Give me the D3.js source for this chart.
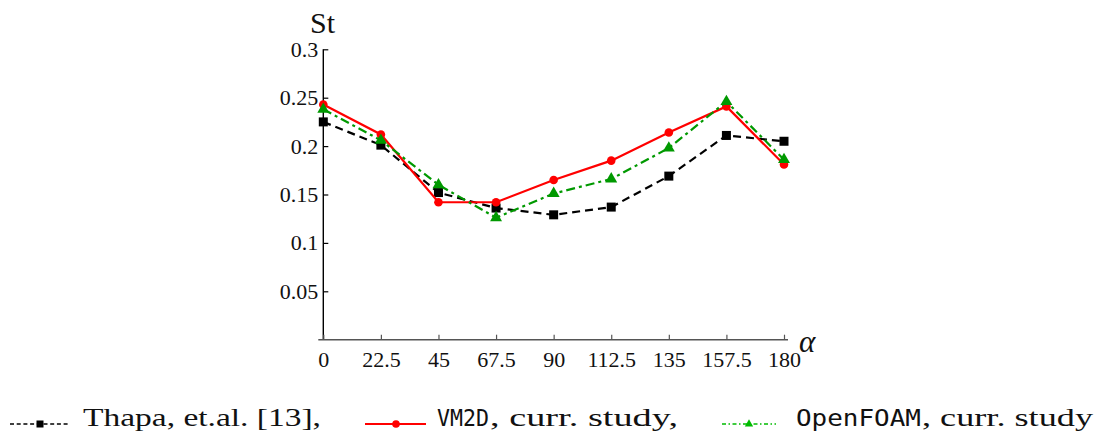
<!DOCTYPE html>
<html>
<head>
<meta charset="utf-8">
<script src="https://cdn.jsdelivr.net/npm/d3@7"></script>
<style>
  html, body { margin: 0; padding: 0; background: #fff; }
  svg { display: block; }
  .serif { font-family: "Liberation Serif", Tinos, "Times New Roman", Times, "DejaVu Serif", serif; }
  .mono { font-family: "DejaVu Sans Mono", "Liberation Mono", monospace; }
</style>
</head>
<body>
<svg id="chart" width="1099" height="437"></svg>
<script>
// ---- data ----
const angles = [0, 22.5, 45, 67.5, 90, 112.5, 135, 157.5, 180];
const thapa = [0.225, 0.201, 0.152, 0.136, 0.129, 0.137, 0.169, 0.211, 0.205];
const vm2d = [0.243, 0.212, 0.142, 0.142, 0.165, 0.185, 0.214, 0.241, 0.181];
const openfoam = [0.238, 0.206, 0.160, 0.126, 0.151, 0.166, 0.198, 0.246, 0.186];
const xTicks = [0, 22.5, 45, 67.5, 90, 112.5, 135, 157.5, 180];
const yTicks = [0.05, 0.1, 0.15, 0.2, 0.25, 0.3];

const svg = d3.select("#chart");

const x = d3.scaleLinear().domain([0, 180]).range([323.3, 784]);
const y = d3.scaleLinear().domain([0, 0.3]).range([339.7, 49.3]);

// ---- axes ----
const yAxis = svg.append("g")
  .attr("transform", `translate(${x(0)},0)`)
  .attr("font-family", null)
  .call(d3.axisLeft(y).tickValues(yTicks).tickSizeInner(-5).tickSizeOuter(0).tickPadding(5)
    .tickFormat(d => String(+d.toFixed(2))));
yAxis.attr("font-family", null).attr("font-size", null);
yAxis.select(".domain").remove();
yAxis.selectAll(".tick line").attr("stroke", "#000").attr("stroke-width", 1.2);
yAxis.selectAll("text").attr("class", "serif").style("font-size", "22px").attr("fill", "#111");
svg.append("line").attr("x1", x(0)).attr("x2", x(0)).attr("y1", y(0)).attr("y2", y(0.3))
  .attr("stroke", "#000").attr("stroke-width", 1.4);

const xAxis = svg.append("g")
  .attr("transform", `translate(0,${y(0)})`)
  .call(d3.axisBottom(x).tickValues(xTicks).tickSizeInner(-5).tickSizeOuter(0).tickPadding(12)
    .tickFormat(d => String(d)));
xAxis.attr("font-family", null).attr("font-size", null);
xAxis.select(".domain").remove();
xAxis.selectAll(".tick line").attr("stroke", "#555").attr("stroke-width", 1.2);
xAxis.selectAll("text").attr("class", "serif").style("font-size", "22px").attr("fill", "#111");
svg.append("line").attr("x1", x(0) - 5).attr("x2", x(180) + 4).attr("y1", y(0)).attr("y2", y(0))
  .attr("stroke", "#555").attr("stroke-width", 1.5);

// axis titles
svg.append("text").attr("class", "serif").attr("x", 310).attr("y", 33).text("St")
  .style("font-size", "30px").attr("fill", "#111");
svg.append("text").attr("class", "serif").attr("x", 799).attr("y", 352).text("α")
  .style("font-style", "italic").style("font-size", "31px").attr("fill", "#111");

// ---- series ----
const series = [
  { name: "thapa", vals: thapa, color: "#000", dash: "8,5", marker: "square" },
  { name: "vm2d", vals: vm2d, color: "#ff0000", dash: null, marker: "circle" },
  { name: "openfoam", vals: openfoam, color: "#009900", dash: "9,4,3,4", marker: "triangle" }
];
const line = d3.line().x(d => x(d[0])).y(d => y(d[1]));

function drawMarker(g, type, color, cx, cy, big) {
  if (type === "square") {
    const s = big ? 9 : 7;
    g.append("rect").attr("x", cx - s / 2).attr("y", cy - s / 2).attr("width", s).attr("height", s).attr("fill", color);
  } else if (type === "circle") {
    g.append("circle").attr("cx", cx).attr("cy", cy).attr("r", big ? 4.3 : 3.8).attr("fill", color);
  } else {
    g.append("path").attr("d", d3.symbol().type(d3.symbolTriangle).size(big ? 62 : 30)())
      .attr("transform", `translate(${cx},${cy})`).attr("fill", color);
  }
}

series.forEach(s => {
  const pts = angles.map((a, i) => [a, s.vals[i]]);
  const g = svg.append("g");
  g.append("path").attr("d", line(pts)).attr("fill", "none")
    .attr("stroke", s.color).attr("stroke-width", 2.2)
    .attr("stroke-dasharray", s.dash);
  pts.forEach(p => drawMarker(g, s.marker, s.color, x(p[0]), y(p[1]), true));
});

// ---- legend ----
const ly = 424, lb = 426;
const legend = [
  { x1: 10, x2: 68, mx: 40, color: "#000", dash: "4,2.7", marker: "square",
    parts: [{ t: "Thapa, et.al. [13],", c: "serif", x: 83, w: 238 }] },
  { x1: 365, x2: 426, mx: 396, color: "#ff0000", dash: null, marker: "circle",
    parts: [{ t: "VM2D", c: "mono", x: 437, w: 52 }, { t: ", curr. study,", c: "serif", x: 490, w: 188 }] },
  { x1: 722, x2: 776, mx: 749, color: "#00bb00", dash: "4,2.5,1.5,2.5", marker: "triangle",
    parts: [{ t: "OpenFOAM", c: "mono", x: 796, w: 125 }, { t: ", curr. study", c: "serif", x: 922, w: 171 }] }
];
legend.forEach(l => {
  const g = svg.append("g");
  g.append("line").attr("x1", l.x1).attr("x2", l.x2).attr("y1", ly).attr("y2", ly)
    .attr("stroke", l.color).attr("stroke-width", l.dash ? 1.6 : 2).attr("stroke-dasharray", l.dash);
  drawMarker(g, l.marker, l.color, l.mx, ly, false);
  l.parts.forEach(p => {
    g.append("text").attr("class", p.c).attr("x", p.x).attr("y", lb).text(p.t)
      .style("font-size", p.c === "mono" ? "23px" : "25px").attr("fill", "#111")
      .attr("textLength", p.w).attr("lengthAdjust", "spacingAndGlyphs");
  });
});
</script>
</body>
</html>
